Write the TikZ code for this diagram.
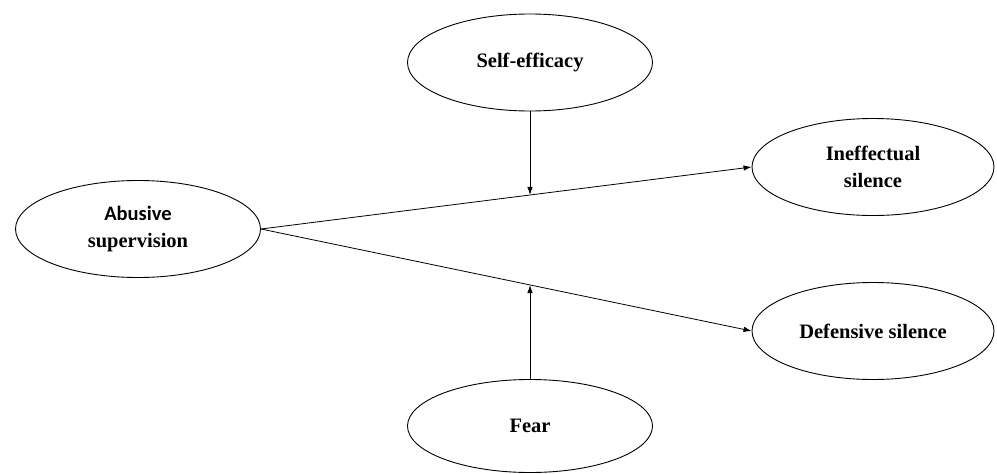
\documentclass[tikz,border=0pt]{standalone}
\usepackage{fontspec}
\setmainfont{Liberation Serif}
\newfontfamily\calibrilike{Carlito}
\usepackage{tikz}
\usetikzlibrary{
    arrows.meta,
    shapes,
    calc,
    positioning
}

\begin{document}
\begin{tikzpicture}[x=1pt, y=-1pt,
        var/.style={draw, ellipse, line width=0.9pt, minimum width=245pt, minimum height=97pt, inner sep=0pt, align=center, font=\fontsize{20.5}{27.5}\selectfont\bfseries},
        >={Latex[length=8pt,width=5.5pt]}, line width=0.8pt]
                        \useasboundingbox (0, 0) rectangle (997, 474);

                        \node[var] (as) at (138, 229) {{\calibrilike Abusive}\\supervision};
                        \node[var] (se) at (530, 62.5) {Self-efficacy};
                        \node[var, minimum width=242pt] (is) at (873, 167) {Ineffectual\\silence};
                        \node[var, minimum width=242pt] (ds) at (873, 331) {Defensive silence};
                        \node[var, minimum height=93pt] (fe) at (530, 426) {Fear};

                        \draw
                        (as.east) edge[->] coordinate[pos=0.549] (m1) (is.west)
                        (as.east) edge[->] coordinate[pos=0.549] (m2) (ds.west);
                        \draw
                        (se.south) edge[->] (se.south |- m1)
                        (fe.north) edge[->] (fe.north |- m2);
                    \end{tikzpicture}
\end{document}
